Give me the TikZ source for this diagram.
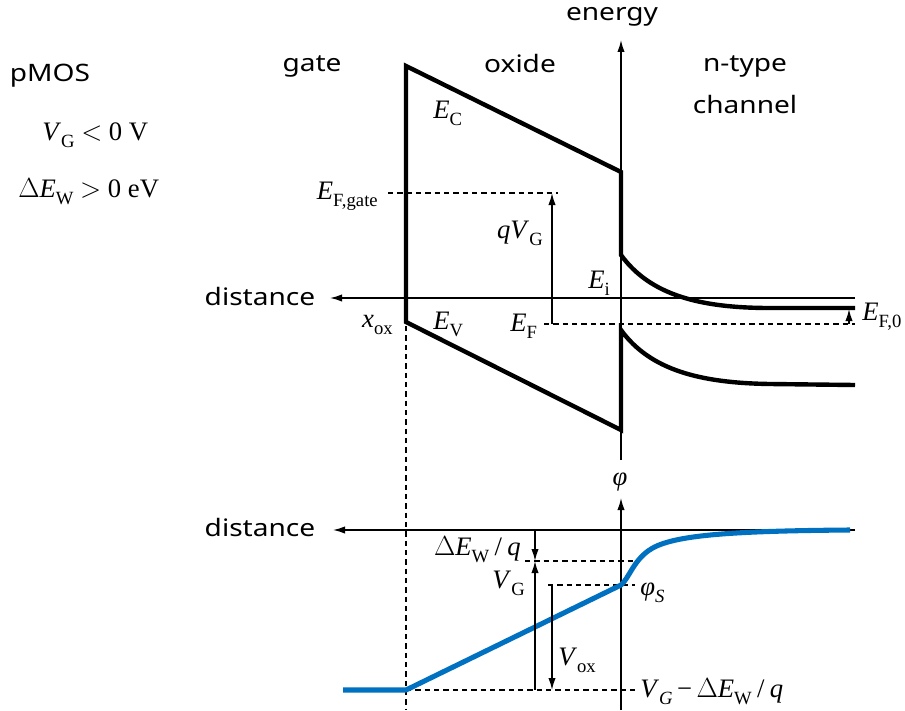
\documentclass[tikz,border=0pt]{standalone}
\usepackage{fontspec}
\setmainfont{Liberation Serif}
\newfontfamily\sansf{Noto Sans}[FakeStretch=1.17]
\usetikzlibrary{arrows.meta}
\newcommand\lsub[1]{\raisebox{-0.6ex}{\fontsize{14}{14}\selectfont #1}}
\newcommand\mE{\textit{E}}
\newcommand\mV{\textit{V}}
\definecolor{potblue}{RGB}{0,112,192}
\begin{document}
\begin{tikzpicture}[x=0.75pt,y=-0.75pt,
  band/.style={line width=3.3pt, line join=miter},
  thin/.style={line width=1.1pt},
  dsh/.style={line width=1pt, dash pattern=on 4pt off 3pt},
  arr/.style={-{Latex[length=9pt,width=5.5pt]}},
  sans/.style={font=\fontsize{18}{22}\sansf, inner sep=0pt},
  lbl/.style={font=\fontsize{20}{24}\selectfont, inner sep=0pt},
  blueline/.style={line width=3.8pt, draw=potblue, line join=round}]
\useasboundingbox (0,0) rectangle (905,710);

% ---- coordinates ----
\coordinate (gTop) at (406,66);
\coordinate (gBot) at (406,322);
\coordinate (cOx) at (621,172);
\coordinate (cS) at (621,255);
\coordinate (cEnd) at (855,308);
\coordinate (vOx) at (621,430);
\coordinate (vS) at (621,330);
\coordinate (vEnd) at (855,385);
\coordinate (eAxB) at (621,460);
\coordinate (eAxT) at (621,40);
\coordinate (dR) at (855,298);
\coordinate (dL) at (330,298);
\coordinate (d2R) at (855,530);
\coordinate (d2L) at (333,530);
\coordinate (pAxB) at (621,710);
\coordinate (pAxT) at (621,498);

% ---- text labels (sans) ----
\node[sans] (energy) at (612,17) {energy};
\node[sans] (gate) at (312,66) {gate};
\node[sans] (oxide) at (520,63) {oxide};
\node[sans] (ntype) at (745,66) {n-type};
\node[sans] (chan) at (745,104) {channel};
\node[sans] (pmos) at (50,76) {pMOS};
\node[sans] (dist1) at (260,296) {distance};
\node[sans] (dist2) at (260,527) {distance};

% ---- conditions ----
\node[lbl, anchor=base west] (cond1) at (42,140) {\mV\lsub{G} $<$ 0 V};
\node[lbl, anchor=base west] (cond2) at (18,197) {$\Delta$\mE\lsub{W} $>$ 0 eV};

% ---- axes ----
\draw[thin, arr] (dR) -- (dL);
\draw[thin, arr] (eAxB) -- (eAxT);
\draw[thin, arr] (d2R) -- (d2L);
\draw[thin, arr] (pAxB) -- (pAxT);

% ---- band diagram ----
\draw[band] (cEnd) -- (770,308) .. controls (700,308) and (650,295) .. (cS)
  -- (cOx) -- (gTop) -- (gBot) -- (vOx) -- (vS)
  .. controls (650,370) and (700,383) .. (770,384) -- (vEnd);

% dashed levels
\draw[dsh] (388,193) -- (558,193);
\draw[dsh] (544,324) -- (855,324);
\draw[dsh] (406,326) -- (406,710);

% arrows
\draw[thin, arr] (552,324) -- (552,193);
\draw[thin, arr] (849,324) -- (849,309);

% band labels
\node[lbl, anchor=base west] (EC) at (433,118) {\mE\lsub{C}};
\node[lbl, anchor=base east] (EFg) at (378,199) {\mE\lsub{F,gate}};
\node[lbl, anchor=base east] (qVG) at (543,238) {\textit{qV}\lsub{G}};
\node[lbl, anchor=base west] (Ei) at (588,288) {\mE\lsub{i}};
\node[lbl, anchor=base east] (xox) at (393,327) {\textit{x}\lsub{ox}};
\node[lbl, anchor=base west] (EV) at (433,329) {\mE\lsub{V}};
\node[lbl, anchor=base west] (EF) at (510,331) {\mE\lsub{F}};
\node[lbl, anchor=base west] (EF0) at (862,320) {\mE\lsub{F,0}};

% ---- potential ----
\draw[dsh] (525,561) -- (635,561);
\draw[dsh] (548,585) -- (635,585);
\draw[dsh] (406,690) -- (635,690);

\draw[blueline] (343,690) -- (406,690) -- (621,585)
  .. controls (629,578) and (633,562) .. (648,551)
  .. controls (668,536) and (720,531) .. (850,530);

\draw[thin, arr] (535,531) -- (535,561);
\draw[thin, arr] (535,690) -- (535,561);
\draw[thin, arr] (552,585) -- (552,690);

\node[lbl, anchor=base] (phi) at (620,485) {\textit{φ}};
\node[lbl, anchor=base east] (dEW) at (521,555) {$\Delta$\mE\lsub{W}\hspace{4pt}/\hspace{4pt}\textit{q}};
\node[lbl, anchor=base east] (VG) at (525,588) {\mV\lsub{G}};
\node[lbl, anchor=base west] (Vox) at (558,665) {\mV\lsub{ox}};
\node[lbl, anchor=base west] (phiS) at (640,595) {\textit{φ}\lsub{\textit{S}}};
\node[lbl, anchor=base west] (VGm) at (640,697) {\mV\lsub{\textit{G}}\,\textminus\,$\Delta$\mE\lsub{W}\hspace{4pt}/\hspace{4pt}\textit{q}};
\end{tikzpicture}
\end{document}
